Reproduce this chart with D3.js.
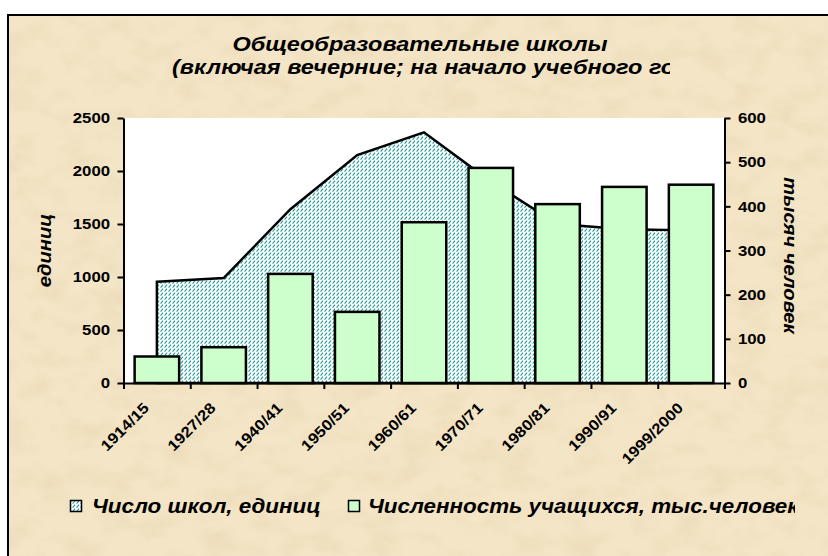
<!DOCTYPE html>
<html>
<head>
<meta charset="utf-8">
<script src="https://cdn.jsdelivr.net/npm/d3@7"></script>
<style>
    body { margin: 0; background: #fff; }
    svg text { font-family: "Liberation Sans", Arial, sans-serif; font-weight: bold; fill: #000; }
</style>
</head>
<body>
<div id="chart"></div>
<script>
// данные
const years = ['1914/15', '1927/28', '1940/41', '1950/51', '1960/61', '1970/71', '1980/81', '1990/91', '1999/2000'];
const schools = [955, 990, 1640, 2150, 2365, 1900, 1500, 1450, 1440];   // единиц
const students = [60, 81, 247, 161, 364, 487, 405, 444, 449];          // тыс. человек
const leftTicks = [0, 500, 1000, 1500, 2000, 2500];
const rightTicks = [0, 100, 200, 300, 400, 500, 600];

const titleLines = ['Общеобразовательные школы', '(включая вечерние; на начало учебного года)'];
const legendLabels = ['Число школ, единиц', 'Численность учащихся, тыс.человек'];

const W = 828, H = 556;
const plot = { left: 123.5, right: 724.5, top: 118, bottom: 383 };
const SX = 1.12;   // текст в оригинале немного растянут по ширине

const svg = d3.select('#chart').append('svg')
    .attr('width', W)
    .attr('height', H);

const defs = svg.append('defs');

// текстура "пергамент"
const paper = defs.append('filter').attr('id', 'paper')
    .attr('x', 0).attr('y', 0).attr('width', '100%').attr('height', '100%');
paper.append('feTurbulence')
    .attr('type', 'fractalNoise')
    .attr('baseFrequency', '0.03 0.045')
    .attr('numOctaves', 4)
    .attr('seed', 7);
paper.append('feColorMatrix')
    .attr('type', 'matrix')
    .attr('values', '0 0 0 0 0.82  0 0 0 0 0.68  0 0 0 0 0.46  1.3 0 0 0 -0.55');

// штриховка для области
const hatch = defs.append('pattern').attr('id', 'hatch')
    .attr('patternUnits', 'userSpaceOnUse')
    .attr('width', 4).attr('height', 4);
hatch.append('rect').attr('width', 4).attr('height', 4).attr('fill', '#fff');
hatch.append('path').attr('d', 'M0.6,3.6 L3,0.6')
    .attr('stroke', '#1f9999').attr('stroke-width', 1.1);

defs.append('clipPath').attr('id', 'clipTitle')
    .append('rect').attr('x', 0).attr('y', 0).attr('width', 670).attr('height', 100);
defs.append('clipPath').attr('id', 'clipLegend')
    .append('rect').attr('x', 0).attr('y', 470).attr('width', 795).attr('height', 80);

// рамка и фон
svg.append('rect')
    .attr('x', 8).attr('y', 15).attr('width', W).attr('height', H)
    .attr('fill', '#f3e5c6')
    .attr('stroke', '#000').attr('stroke-width', 2);
svg.append('rect')
    .attr('x', 9).attr('y', 16).attr('width', W).attr('height', H)
    .attr('filter', 'url(#paper)');

// заголовок
svg.append('text')
    .attr('transform', `translate(420,51) scale(${SX},1)`)
    .attr('text-anchor', 'middle')
    .style('font-size', '21px').style('font-style', 'italic')
    .text(titleLines[0]);
svg.append('g')
    .attr('clip-path', 'url(#clipTitle)')
    .append('text')
    .attr('transform', `translate(172,74) scale(${SX},1)`)
    .style('font-size', '21px').style('font-style', 'italic')
    .text(titleLines[1]);

// область построения
svg.append('rect')
    .attr('x', plot.left).attr('y', plot.top)
    .attr('width', plot.right - plot.left).attr('height', plot.bottom - plot.top)
    .attr('fill', '#fff');

const x = d3.scaleBand()
    .domain(years)
    .range([plot.left, plot.right]);
const xTicks = d3.scaleLinear()
    .domain([0, years.length])
    .range([plot.left, plot.right]);
const yLeft = d3.scaleLinear().domain([0, 2500]).range([plot.bottom, plot.top]);
const yRight = d3.scaleLinear().domain([0, 600]).range([plot.bottom, plot.top]);

const cx = d => x(d) + x.bandwidth() / 2;

// область: число школ
const area = d3.area()
    .x((d, i) => cx(years[i]))
    .y0(yLeft(0))
    .y1(d => yLeft(d));
svg.append('path')
    .datum(schools)
    .attr('d', area)
    .attr('fill', 'url(#hatch)')
    .attr('stroke', '#000')
    .attr('stroke-width', 2.5)
    .attr('stroke-linejoin', 'miter');

// столбики: учащиеся
const barW = x.bandwidth() / 1.5;
svg.selectAll('.bar')
    .data(students)
    .join('rect')
    .attr('class', 'bar')
    .attr('x', (d, i) => cx(years[i]) - barW / 2)
    .attr('y', d => yRight(d))
    .attr('width', barW)
    .attr('height', d => yRight(0) - yRight(d))
    .attr('fill', '#ccffcc')
    .attr('stroke', '#000')
    .attr('stroke-width', 2.5);

// оси
function styleAxis(g) {
    g.selectAll('path, line').attr('stroke', '#000').attr('stroke-width', 2);
    g.selectAll('text')
        .style('font-size', '15px')
        .style('font-family', '"Liberation Sans", Arial, sans-serif')
        .style('font-weight', 'bold')
        .attr('transform', `scale(${SX},1)`);
}

svg.append('g')
    .attr('transform', `translate(${plot.left},0)`)
    .call(d3.axisLeft(yLeft).tickValues(leftTicks).tickFormat(d3.format('d'))
        .tickSize(6).tickSizeOuter(0).tickPadding(6))
    .call(styleAxis);

svg.append('g')
    .attr('transform', `translate(${plot.right},0)`)
    .call(d3.axisRight(yRight).tickValues(rightTicks).tickFormat(d3.format('d'))
        .tickSize(6).tickSizeOuter(0).tickPadding(6))
    .call(styleAxis);

svg.append('g')
    .attr('transform', `translate(0,${plot.bottom})`)
    .call(d3.axisBottom(xTicks).tickValues(d3.range(years.length + 1)).tickFormat('').tickSize(6).tickSizeOuter(0))
    .call(styleAxis);

// подписи категорий
svg.selectAll('.xlabel')
    .data(years)
    .join('text')
    .attr('class', 'xlabel')
    .attr('text-anchor', 'end')
    .attr('transform', d => `translate(${cx(d) - 7},${plot.bottom + 26}) rotate(-45) scale(${SX},1)`)
    .style('font-size', '15px')
    .text(d => d);

// подписи осей
svg.append('text')
    .attr('transform', `translate(51,${(plot.top + plot.bottom) / 2}) rotate(-90) scale(${SX},1)`)
    .attr('text-anchor', 'middle')
    .style('font-size', '18px').style('font-style', 'italic')
    .text('единиц');
svg.append('text')
    .attr('transform', `translate(784,${(plot.top + plot.bottom) / 2 + 5}) rotate(90) scale(${SX},1)`)
    .attr('text-anchor', 'middle')
    .style('font-size', '18px').style('font-style', 'italic')
    .text('тысяч человек');

// легенда
const legend = svg.append('g').attr('clip-path', 'url(#clipLegend)');
legend.append('rect')
    .attr('x', 70.5).attr('y', 500.5).attr('width', 11).attr('height', 11)
    .attr('fill', 'url(#hatch)').attr('stroke', '#000').attr('stroke-width', 1.5);
legend.append('text')
    .attr('transform', `translate(92,513) scale(${SX},1)`)
    .style('font-size', '20px').style('font-style', 'italic')
    .text(legendLabels[0]);
legend.append('rect')
    .attr('x', 348.5).attr('y', 500.5).attr('width', 11).attr('height', 11)
    .attr('fill', '#ccffcc').attr('stroke', '#000').attr('stroke-width', 1.5);
legend.append('text')
    .attr('transform', `translate(368,513) scale(${SX},1)`)
    .style('font-size', '20px').style('font-style', 'italic')
    .text(legendLabels[1]);
</script>
</body>
</html>
